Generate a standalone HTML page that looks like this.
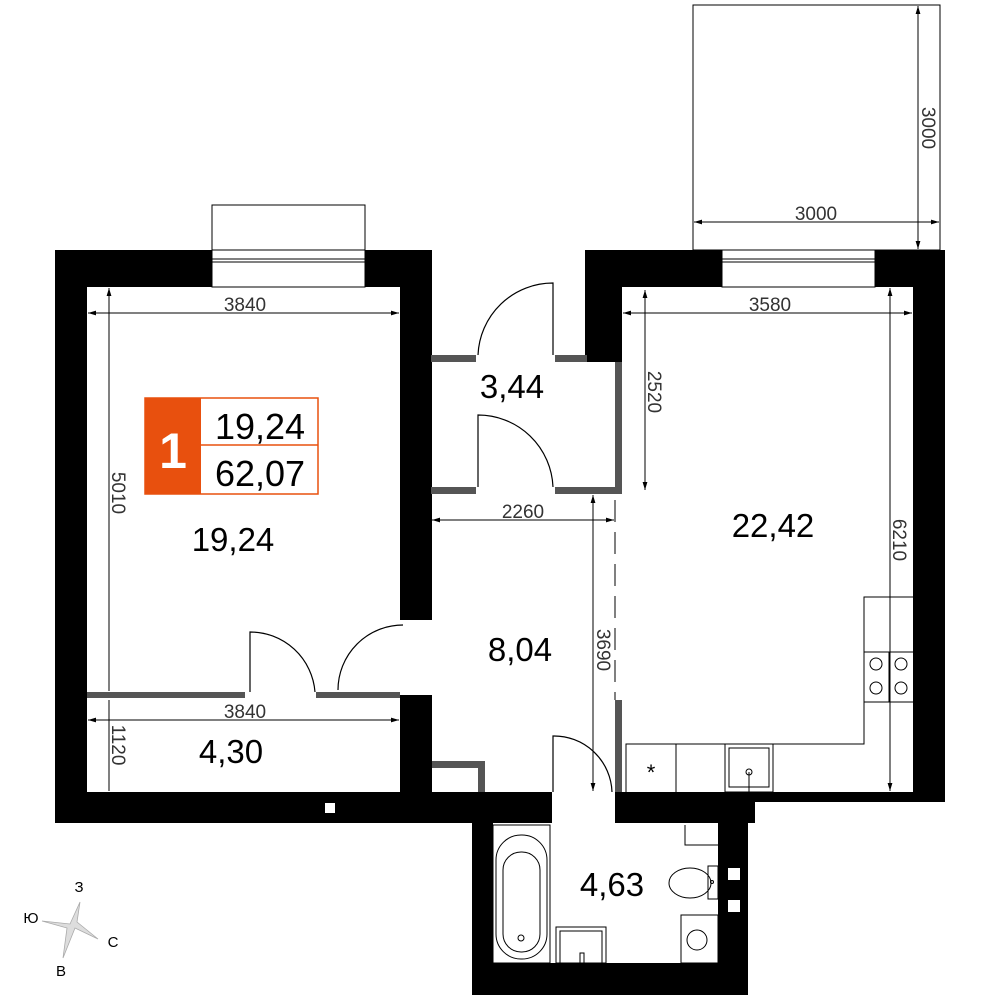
<!DOCTYPE html>
<html><head><meta charset="utf-8"><style>html,body{margin:0;padding:0;background:#fff}svg{display:block}</style></head><body>
<svg width="1000" height="1000" viewBox="0 0 1000 1000" xmlns="http://www.w3.org/2000/svg" font-family="Liberation Sans, DejaVu Sans, sans-serif">
<defs><marker id="a" viewBox="0 0 10 10" refX="10" refY="5" markerWidth="8" markerHeight="8" orient="auto-start-reverse" markerUnits="userSpaceOnUse"><path d="M0,2 L10,5 L0,8z" fill="#000"/></marker></defs>
<rect x="693" y="5" width="247" height="245" fill="none" stroke="#000" stroke-width="1"/>
<rect x="212" y="205" width="153" height="45" fill="none" stroke="#000" stroke-width="1"/>
<g fill="#000">
<rect x="55" y="250" width="157" height="37"/><rect x="365" y="250" width="67" height="37"/>
<rect x="55" y="250" width="32" height="570"/>
<rect x="400" y="250" width="32" height="370"/><rect x="400" y="695" width="32" height="125"/>
<rect x="55" y="792" width="497" height="31"/>
<rect x="615" y="792" width="330" height="10"/><rect x="615" y="792" width="140" height="31"/>
<rect x="585" y="250" width="137" height="37"/><rect x="875" y="250" width="70" height="37"/>
<rect x="585" y="250" width="37" height="112"/>
<rect x="913" y="250" width="32" height="552"/>
<rect x="472" y="823" width="21" height="172"/><rect x="718" y="823" width="30" height="172"/>
<rect x="472" y="963" width="276" height="32"/>
</g>
<rect x="325" y="803" width="10" height="10" fill="#fff"/>
<rect x="728" y="868" width="12" height="12" fill="#fff"/><rect x="728" y="900" width="12" height="12" fill="#fff"/>
<g fill="#fff" stroke="#000" stroke-width="1"><rect x="212" y="250" width="153" height="37"/><rect x="722" y="250" width="153" height="37"/></g>
<g stroke="#000" stroke-width="1"><line x1="212" y1="259" x2="365" y2="259"/><line x1="212" y1="262" x2="365" y2="262"/><line x1="722" y1="259" x2="875" y2="259"/><line x1="722" y1="262" x2="875" y2="262"/></g>
<g fill="#555">
<rect x="431" y="355" width="45" height="7"/><rect x="555" y="355" width="32" height="7"/>
<rect x="615" y="362" width="7" height="131"/>
<rect x="431" y="487" width="45" height="7"/><rect x="555" y="487" width="67" height="7"/>
<rect x="87" y="692" width="158" height="6"/><rect x="316" y="692" width="84" height="6"/>
<rect x="432" y="761" width="53" height="7"/><rect x="478" y="761" width="7" height="31"/>
<rect x="615" y="700" width="7" height="92"/>
</g>
<line x1="615" y1="500" x2="615" y2="700" stroke="#000" stroke-width="1" stroke-dasharray="22,10"/>
<g fill="none" stroke="#000" stroke-width="1.2">
<path d="M478,355 A75,75 0 0 1 553,283 L553,355"/>
<path d="M478,487 L478,415 A75,75 0 0 1 553,487"/>
<path d="M250,692 L250,632 A65,65 0 0 1 315,692"/>
<path d="M338,690 A65,65 0 0 1 403,625"/>
<path d="M553,792 L553,736 A58,58 0 0 1 612,792"/>
</g>
<g fill="none" stroke="#000" stroke-width="1">
<path d="M626,792 L626,744 L864,744 L864,597 L913,597"/>
<line x1="864" y1="652" x2="913" y2="652"/><line x1="864" y1="702" x2="913" y2="702"/><line x1="889" y1="652" x2="889" y2="702"/>
<circle cx="876" cy="664" r="6"/><circle cx="901" cy="664" r="6"/><circle cx="876" cy="688" r="6"/><circle cx="901" cy="688" r="6"/>
<line x1="676" y1="744" x2="676" y2="792"/>
<rect x="725" y="744" width="48" height="48"/><rect x="729" y="748" width="40" height="39"/>
<line x1="749" y1="772" x2="749" y2="792"/><circle cx="749" cy="772" r="3"/>
<rect x="493" y="825" width="57" height="138"/>
<rect x="496" y="835" width="51" height="124" rx="25"/>
<rect x="503" y="852" width="37" height="100" rx="18"/>
<circle cx="521" cy="938" r="3"/>
<rect x="556" y="927" width="50" height="36"/><rect x="560" y="931" width="42" height="32"/>
<rect x="580" y="953" width="4" height="10"/>
<ellipse cx="690" cy="883" rx="21" ry="15"/><rect x="708" y="866" width="10" height="33"/><circle cx="712" cy="882" r="1.5"/>
<rect x="681" y="915" width="37" height="48"/><circle cx="697" cy="940" r="10"/>
<polyline points="685,825 685,845 718,845"/>
</g>
<text x="651" y="780" font-size="22" text-anchor="middle">*</text>
<g stroke="#000" stroke-width="1" fill="none">
<line x1="88" y1="313" x2="399" y2="313" marker-start="url(#a)" marker-end="url(#a)"/>
<line x1="109" y1="288" x2="109" y2="691" marker-start="url(#a)"/>
<line x1="88" y1="720" x2="399" y2="720" marker-start="url(#a)" marker-end="url(#a)"/>
<line x1="109" y1="700" x2="109" y2="791"/>
<line x1="432" y1="520" x2="614" y2="520" marker-start="url(#a)" marker-end="url(#a)"/>
<line x1="593" y1="495" x2="593" y2="791" marker-start="url(#a)" marker-end="url(#a)"/>
<line x1="623" y1="313" x2="912" y2="313" marker-start="url(#a)" marker-end="url(#a)"/>
<line x1="645" y1="290" x2="645" y2="490" marker-start="url(#a)" marker-end="url(#a)"/>
<line x1="890" y1="288" x2="890" y2="791" marker-start="url(#a)" marker-end="url(#a)"/>
<line x1="694" y1="222" x2="939" y2="222" marker-start="url(#a)" marker-end="url(#a)"/>
<line x1="918" y1="6" x2="918" y2="249" marker-start="url(#a)" marker-end="url(#a)"/>
</g>
<g font-size="19" fill="#333" text-anchor="middle">
<text x="245" y="311">3840</text><text x="245" y="718">3840</text>
<text x="523" y="518">2260</text><text x="770" y="311">3580</text><text x="816" y="220">3000</text>
<text transform="translate(112,493) rotate(90)">5010</text>
<text transform="translate(112,745) rotate(90)">1120</text>
<text transform="translate(597,650) rotate(90)">3690</text>
<text transform="translate(648,392) rotate(90)">2520</text>
<text transform="translate(893,540) rotate(90)">6210</text>
<text transform="translate(922,128) rotate(90)">3000</text>
</g>
<g font-size="33" fill="#000" text-anchor="middle">
<text x="233" y="551">19,24</text><text x="512" y="398">3,44</text><text x="520" y="661">8,04</text>
<text x="773" y="537">22,42</text><text x="231" y="763">4,30</text><text x="612" y="896">4,63</text>
</g>
<rect x="145" y="398" width="173" height="96" fill="#fff" stroke="#e8500e" stroke-width="1.5"/>
<rect x="145" y="398" width="56" height="96" fill="#e8500e"/>
<line x1="201" y1="445" x2="318" y2="445" stroke="#e8500e" stroke-width="1.5"/>
<text x="173" y="468" font-size="50" font-weight="bold" fill="#fff" text-anchor="middle">1</text>
<text x="260" y="439" font-size="36" fill="#000" text-anchor="middle">19,24</text>
<text x="260" y="486" font-size="36" fill="#000" text-anchor="middle">62,07</text>
<polygon points="80,902 77,922 98,939 75,928 63,958 67,928 42,921 70,924" fill="#ddd" stroke="#aaa" stroke-width="0.8"/>
<g font-size="15" fill="#000" text-anchor="middle"><text x="79" y="892">З</text><text x="31" y="923">Ю</text><text x="113" y="947">С</text><text x="61" y="976">В</text></g>
</svg>
</body></html>
